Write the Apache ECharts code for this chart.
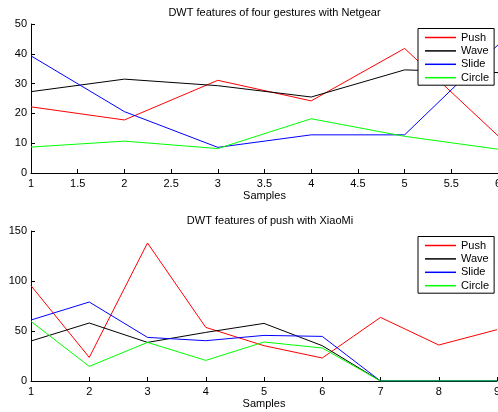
<!DOCTYPE html>
<html><head><meta charset="utf-8">
<script src="https://cdn.jsdelivr.net/npm/echarts@6/dist/echarts.min.js"></script>
<style>html,body{margin:0;padding:0;background:#fff}#c{width:498px;height:412px}</style>
</head><body><div id="c"></div>
<script>
const topTitle = 'DWT features of four gestures with Netgear';
const bottomTitle = 'DWT features of push with XiaoMi';
const seriesNames = ['Push', 'Wave', 'Slide', 'Circle'];
const seriesColors = ['#ff0000', '#000000', '#0000ff', '#00ff00'];
const topSamples = [1, 2, 3, 4, 5, 6];
const topPush = [22.2, 17.8, 31.1, 24.2, 41.8, 12.5];
const topWave = [27.3, 31.5, 29.3, 25.5, 34.6, 33.7];
const topSlide = [39.3, 20.6, 8.6, 12.8, 12.8, 43];
const topCircle = [8.7, 10.7, 8.2, 18.2, 12.3, 8.0];
const bottomSamples = [1, 2, 3, 4, 5, 6, 7, 8, 9];
const bottomPush = [95.3, 23.6, 138, 53.6, 35.3, 23, 63.6, 36, 51.3];
const bottomWave = [40, 58, 38.6, 48.6, 57.6, 35.3, 0, 0, 0];
const bottomSlide = [61, 79, 43.6, 40.3, 45.6, 44.6, 0, 0, 0];
const bottomCircle = [59.6, 14.6, 38.6, 20.6, 39, 33, 0, 0, 0];

const FONT = 'Liberation Sans';
const topData = [topPush, topWave, topSlide, topCircle];
const bottomData = [bottomPush, bottomWave, bottomSlide, bottomCircle];

function pairs(xs, ys) { return xs.map((x, i) => [x, ys[i]]); }

function xAxis(gi, min, max, interval) {
  return {
    type: 'value', gridIndex: gi, min: min, max: max, interval: interval,
    name: 'Samples', nameLocation: 'middle', nameGap: 17,
    nameTextStyle: { fontFamily: FONT, fontSize: 11, color: '#000' },
    axisLine: { show: true, onZero: false, lineStyle: { color: '#000', width: 1 } },
    axisTick: { show: true, inside: true, length: 4, lineStyle: { color: '#000' } },
    axisLabel: { fontFamily: FONT, fontSize: 11, color: '#000', margin: 5, showMaxLabel: true, showMinLabel: true },
    splitLine: { show: false }
  };
}
function yAxis(gi, min, max, interval) {
  return {
    type: 'value', gridIndex: gi, min: min, max: max, interval: interval,
    axisLine: { show: true, lineStyle: { color: '#000', width: 1 } },
    axisTick: { show: true, inside: true, length: 4, lineStyle: { color: '#000' } },
    axisLabel: { fontFamily: FONT, fontSize: 11, color: '#000', margin: 4 },
    splitLine: { show: false }
  };
}
const series = [];
seriesNames.forEach((n, i) => {
  series.push({ name: n, type: 'line', xAxisIndex: 0, yAxisIndex: 0, data: pairs(topSamples, topData[i]),
    showSymbol: false, symbol: 'none', lineStyle: { color: seriesColors[i], width: 1 }, itemStyle: { color: seriesColors[i] }, animation: false });
});
seriesNames.forEach((n, i) => {
  series.push({ name: n, type: 'line', xAxisIndex: 1, yAxisIndex: 1, data: pairs(bottomSamples, bottomData[i]),
    showSymbol: false, symbol: 'none', lineStyle: { color: seriesColors[i], width: 1 }, itemStyle: { color: seriesColors[i] }, animation: false });
});
function legend(top) {
  return {
    data: seriesNames, orient: 'vertical', left: 418, top: top,
    icon: 'rect', itemWidth: 31, itemHeight: 1.5, itemGap: 2.4,
    padding: [3.5, 5, 2, 7], borderColor: '#000', borderWidth: 1, backgroundColor: '#fff',
    borderRadius: 0,
    textStyle: { fontFamily: FONT, fontSize: 11, color: '#000' },
    selectedMode: false
  };
}
const chart = echarts.init(document.getElementById('c'), null, { renderer: 'canvas' });
chart.setOption({
  backgroundColor: '#fff',
  animation: false,
  title: [
    { text: topTitle, left: 269.5, top: 2, textAlign: 'center', textStyle: { fontFamily: FONT, fontSize: 11, fontWeight: 'normal', color: '#000' } },
    { text: bottomTitle, left: 265, top: 210, textAlign: 'center', textStyle: { fontFamily: FONT, fontSize: 11, fontWeight: 'normal', color: '#000' } }
  ],
  grid: [
    { left: 31, right: 0, top: 24, height: 149, containLabel: false, outerBoundsMode: 'none' },
    { left: 31, right: 1, top: 231, height: 150, containLabel: false, outerBoundsMode: 'none' }
  ],
  xAxis: [xAxis(0, 1, 6, 0.5), xAxis(1, 1, 9, 1)],
  yAxis: [yAxis(0, 0, 50, 10), yAxis(1, 0, 150, 50)],
  legend: [legend(28.5), legend(236.5)],
  series: series
});
</script></body></html>
